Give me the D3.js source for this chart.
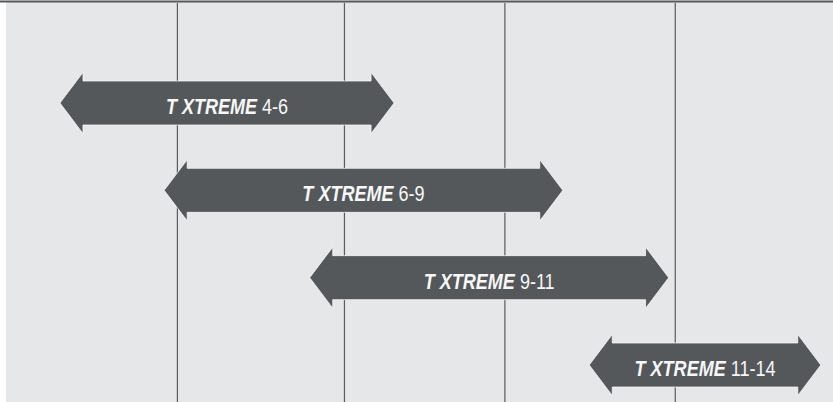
<!DOCTYPE html>
<html>
<head>
<meta charset="utf-8">
<script src="https://cdn.jsdelivr.net/npm/d3@7"></script>
<style>
body { margin: 0; background: #fff; }
svg { display: block; }
</style>
</head>
<body>
<div id="chart"></div>
<script>
// ranges, in column units (grid lines fall near 1, 2, 3, 4)
var names = ["4-6", "6-9", "9-11", "11-14"],
    starts = [0.29, 0.92, 1.80, 3.49],
    ends = [2.31, 3.33, 3.97, 4.89],
    gridValues = [1.0, 2.01, 2.98, 4.01];

var width = 833,
    height = 402;

var x = d3.scaleLinear()
    .domain([0, 5])
    .range([12, 839]);

var y = d3.scalePoint()
    .domain(names)
    .range([103, 365]);

var headLen = 23,
    headHalf = 30.5,
    shaftHalf = 22;

var svg = d3.select("#chart").append("svg")
    .attr("width", width)
    .attr("height", height);

svg.append("rect")
    .attr("x", 6)
    .attr("y", 2)
    .attr("width", width - 6)
    .attr("height", height - 2)
    .attr("fill", "#e6e7e8");

svg.append("line")
    .attr("x1", 0).attr("x2", width)
    .attr("y1", 1.5).attr("y2", 1.5)
    .attr("stroke", "#555759")
    .attr("stroke-width", 2);

svg.selectAll(".grid")
    .data(gridValues)
    .enter().append("line")
    .attr("class", "grid")
    .attr("x1", function(d) { return x(d); })
    .attr("x2", function(d) { return x(d); })
    .attr("y1", 3)
    .attr("y2", height)
    .attr("stroke", "#5a5b5d")
    .attr("stroke-width", 1.2);

function arrowPath(x0, x1, cy) {
  var p = d3.path();
  p.moveTo(x0, cy);
  p.lineTo(x0 + headLen, cy - headHalf);
  p.lineTo(x0 + headLen, cy - shaftHalf);
  p.lineTo(x1 - headLen, cy - shaftHalf);
  p.lineTo(x1 - headLen, cy - headHalf);
  p.lineTo(x1, cy);
  p.lineTo(x1 - headLen, cy + headHalf);
  p.lineTo(x1 - headLen, cy + shaftHalf);
  p.lineTo(x0 + headLen, cy + shaftHalf);
  p.lineTo(x0 + headLen, cy + headHalf);
  p.closePath();
  return p.toString();
}

var arrows = svg.selectAll(".arrow")
    .data(names)
    .enter().append("g")
    .attr("class", "arrow");

arrows.append("path")
    .attr("d", function(d, i) { return arrowPath(x(starts[i]), x(ends[i]), y(d)); })
    .attr("fill", "#55585b")
    .attr("stroke", "#ffffff")
    .attr("stroke-opacity", 0.7)
    .attr("stroke-width", 1);

// condensed look: Liberation Sans squeezed horizontally
var labels = arrows.append("text")
    .attr("transform", function(d, i) {
      var cx = (x(starts[i]) + x(ends[i])) / 2;
      return "translate(" + cx + "," + (y(d) + 11) + ") scale(0.82,1)";
    })
    .attr("text-anchor", "middle")
    .attr("fill", "#f7f7f7")
    .style("font-family", "'Liberation Sans', Arial, sans-serif")
    .style("font-size", "22px");

labels.append("tspan")
    .style("font-weight", "bold")
    .style("font-style", "italic")
    .text("T XTREME");

labels.append("tspan")
    .text(function(d) { return " " + d; });
</script>
</body>
</html>
